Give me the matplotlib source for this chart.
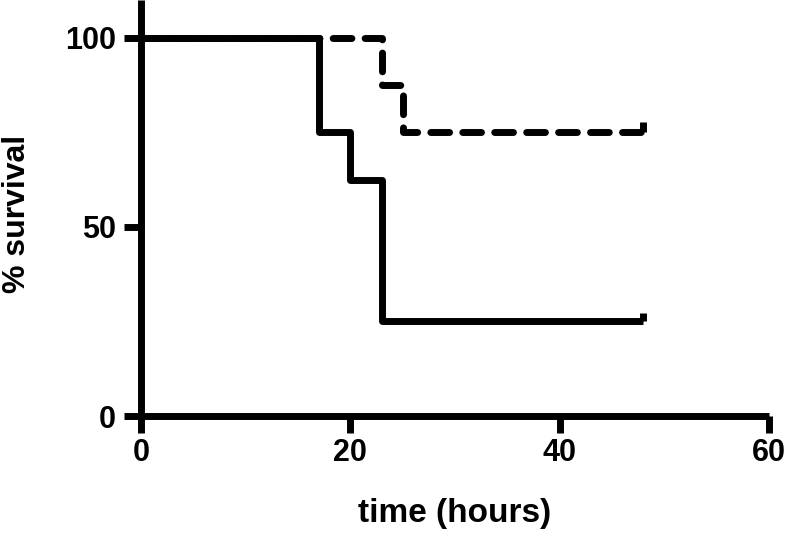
import matplotlib
matplotlib.use("Agg")
import matplotlib.pyplot as plt

# data
solid_t = [0, 17, 17, 20, 20, 23, 23, 48]
solid_s = [100, 100, 75, 75, 62.5, 62.5, 25, 25]
dashed_t = [0, 23, 23, 25, 25, 48]
dashed_s = [100, 100, 87.5, 87.5, 75, 75]
xticks = [0, 20, 40, 60]
yticks = [0, 50, 100]

plt.rcParams['font.family'] = ['Liberation Sans', 'DejaVu Sans']
plt.rcParams['font.weight'] = 'bold'

fig = plt.figure(figsize=(7.85, 5.37), dpi=100)
ax = fig.add_axes([141/785, 1-416/537, 628/785, 416/537])

lw = 5
ax.plot(solid_t, solid_s, color='black', lw=lw, solid_joinstyle='round', solid_capstyle='butt')
ax.plot(dashed_t, dashed_s, color='black', lw=lw, dashes=(2.7, 1.9),
        dash_capstyle='round', dash_joinstyle='round')
# censor marks at the end of each curve
ax.plot([solid_t[-1]], [solid_s[-1]], marker=2, color='black', markersize=6, mew=lw)
ax.plot([dashed_t[-1]], [dashed_s[-1]], marker=2, color='black', markersize=7, mew=lw)

ax.set_xlim(0, 60)
ax.set_ylim(0, 110)
ax.set_xticks(xticks)
ax.set_yticks(yticks)
for s in ['top', 'right']:
    ax.spines[s].set_visible(False)
for s in ['left', 'bottom']:
    ax.spines[s].set_linewidth(lw)
    ax.spines[s].set_capstyle('butt')
ax.tick_params(axis='x', length=12, width=lw, pad=4, labelsize=22)
ax.tick_params(axis='y', length=12, width=lw, pad=6, labelsize=22)
for lab in ax.get_xticklabels() + ax.get_yticklabels():
    lab.set_fontweight('bold')

ax.set_xlabel('time (hours)', fontsize=24, fontweight='bold')
ax.xaxis.set_label_coords(0.5, (416-498)/416)
ax.set_ylabel('% survival', fontsize=23, fontweight='bold')
ax.yaxis.set_label_coords((17-141)/628, (416-214)/416)
ax.yaxis.label.set_va('center')
ax.yaxis.label.set_ha('center')

fig.savefig('out.png', dpi=100)
